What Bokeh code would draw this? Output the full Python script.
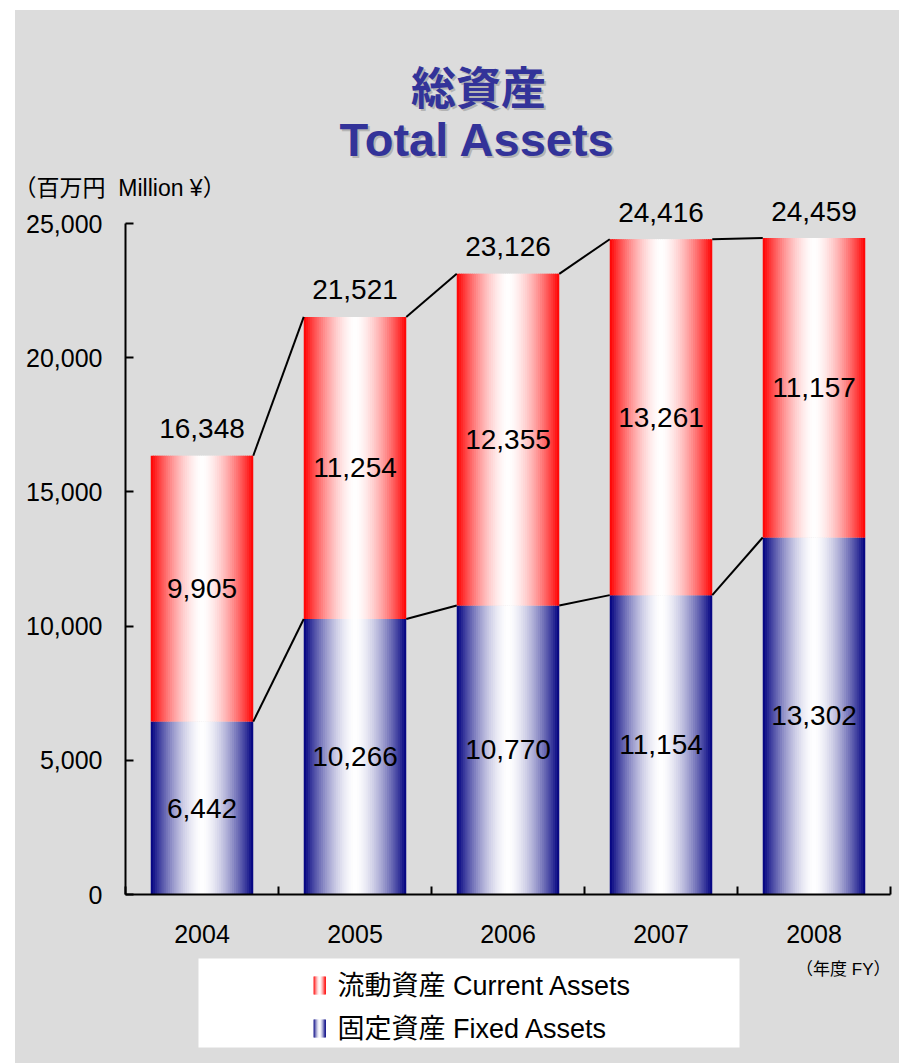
from bokeh.plotting import figure
from bokeh.models import (ColumnDataSource, Range1d, FixedTicker, SingleIntervalTicker,
                          NumeralTickFormatter)
from bokeh.layouts import column
from bokeh.embed import file_html
from bokeh.resources import INLINE
from bokeh.core.properties import value

# ---------------- data ----------------
years = ["2004", "2005", "2006", "2007", "2008"]
fixed_assets = [6442, 10266, 10770, 11154, 13302]      # 固定資産 Fixed Assets
current_assets = [9905, 11254, 12355, 13261, 11157]    # 流動資産 Current Assets
total_assets = [16348, 21521, 23126, 24416, 24459]     # 総資産 Total Assets

title_jp = "総資産"
title_en = "Total Assets"
unit_label = "（百万円\u00a0\u00a0Million ¥）"
year_label = "（年度 FY）"
legend_current = "流動資産 Current Assets"
legend_fixed = "固定資産 Fixed Assets"

# ---------------- style ----------------
BG = "#dcdcdc"
FONT = "'Liberation Sans', Arial, 'Noto Sans CJK JP', sans-serif"
CJK = "'Noto Sans CJK JP', sans-serif"
TITLE_COLOR = "#333399"
SHADOW = "#b4b4b4"
RED = (255, 0, 0)
NAVY = (0, 0, 128)
BAR_W = 0.67
N_STRIPS = 48

FRAME_W = 765
LEFT_B = 110
RIGHT_B = 9
PX_PER_25000 = 671


def grad_color(base, t, c=0.5, p=1.6):
    d = abs(t - c) / (c if t < c else 1 - c)
    f = min(1.0, d) ** p
    r, g, b = [int(round(255 * (1 - f) + ch * f)) for ch in base]
    return "#%02x%02x%02x" % (r, g, b)


def base_fig(frame_h, **kw):
    f = figure(frame_width=FRAME_W, frame_height=frame_h, output_backend="svg",
               toolbar_location=None, min_border_left=LEFT_B, min_border_right=RIGHT_B,
               background_fill_color=BG, border_fill_color=None, outline_line_color=None,
               **kw)
    f.styles = {"background-color": BG}
    f.xgrid.visible = False
    f.ygrid.visible = False
    return f

# ---------------- title panel (coordinates: px, page based) ----------------
T_TOP = 10
T_H = 163
t = base_fig(T_H, x_range=Range1d(125, 890), y_range=Range1d(T_TOP + T_H, T_TOP),
             x_axis_type=None, y_axis_type=None, min_border_top=0, min_border_bottom=0)
for dx, col in [(2, SHADOW), (0, TITLE_COLOR)]:
    t.text(x=[478 + dx], y=[85 + dx], text=[title_jp], text_align="center",
           text_baseline="middle", text_font=value(CJK), text_font_size="45px",
           text_font_style="bold", text_color=col)
    t.text(x=[477 + dx], y=[139 + dx], text=[title_en], text_align="center",
           text_baseline="middle", text_font=value(FONT), text_font_size="47px",
           text_font_style="bold", text_color=col)

# ---------------- main chart ----------------
n = len(years)
idx = list(range(n))
FRAME_H = 693
p = base_fig(FRAME_H, x_range=Range1d(-0.5, n - 0.5),
             y_range=Range1d(0, 25000 * FRAME_H / PX_PER_25000),
             min_border_top=0, min_border_bottom=57)

p.title.text = unit_label
p.title.align = "left"
p.title.offset = -112
p.title.standoff = 0
p.title.vertical_align = "middle"
p.title.text_font = FONT
p.title.text_font_size = "23px"
p.title.text_font_style = "normal"
p.title.text_color = "black"


def strips(bottoms, tops, base):
    L, R, B, T, C = [], [], [], [], []
    step = BAR_W / N_STRIPS
    for i in idx:
        for j in range(N_STRIPS):
            tt = (j + 0.5) / N_STRIPS
            left = i - BAR_W / 2 + j * step
            right = min(left + step * 1.6, i + BAR_W / 2)
            L.append(left); R.append(right)
            B.append(bottoms[i]); T.append(tops[i])
            C.append(grad_color(base, tt))
    return ColumnDataSource(dict(left=L, right=R, bottom=B, top=T, color=C))


stack_top = [f + c for f, c in zip(fixed_assets, current_assets)]
p.quad(left="left", right="right", bottom="bottom", top="top", fill_color="color",
       line_color=None, source=strips([0] * n, fixed_assets, NAVY))
p.quad(left="left", right="right", bottom="bottom", top="top", fill_color="color",
       line_color=None, source=strips(fixed_assets, stack_top, RED))

# connector lines
x0 = [i + BAR_W / 2 for i in idx[:-1]]
x1 = [i + 1 - BAR_W / 2 for i in idx[:-1]]
p.segment(x0=x0, y0=stack_top[:-1], x1=x1, y1=stack_top[1:], line_color="black", line_width=2)
p.segment(x0=x0, y0=fixed_assets[:-1], x1=x1, y1=fixed_assets[1:], line_color="black", line_width=2)

# value labels
fmt = lambda v: f"{v:,}"
common = dict(text_align="center", text_baseline="middle", text_font=value(FONT),
              text_font_size="28px", text_color="black")
p.text(x=idx, y=total_assets, text=[fmt(v) for v in total_assets], y_offset=-27, **common)
p.text(x=idx, y=[f / 2 for f in fixed_assets], text=[fmt(v) for v in fixed_assets], **common)
p.text(x=idx, y=[f + c / 2 for f, c in zip(fixed_assets, current_assets)],
       text=[fmt(v) for v in current_assets], **common)

# axes
ya = p.yaxis[0]
ya.bounds = (0, 25000)
ya.ticker = SingleIntervalTicker(interval=5000, num_minor_ticks=0)
ya.formatter = NumeralTickFormatter(format="0,0")
ya.axis_line_width = 2
ya.major_tick_line_width = 2
ya.major_tick_in = 8
ya.major_tick_out = 0
ya.minor_tick_line_color = None
ya.major_label_standoff = 23
ya.major_label_text_font = FONT
ya.major_label_text_font_size = "25px"
ya.major_label_text_color = "black"

xa = p.xaxis[0]
xa.ticker = FixedTicker(ticks=idx, minor_ticks=[i - 0.5 for i in idx] + [n - 0.5])
xa.major_label_overrides = {i: y for i, y in zip(idx, years)}
xa.axis_line_width = 2
xa.major_tick_line_color = None
xa.major_tick_in = 0
xa.major_tick_out = 0
xa.minor_tick_line_width = 2
xa.minor_tick_in = 8
xa.minor_tick_out = 0
xa.major_label_standoff = 30
xa.major_label_text_font = FONT
xa.major_label_text_font_size = "25px"
xa.major_label_text_color = "black"

# ---------------- legend panel (coordinates: px from panel top) ----------------
Q_H = 112
q = base_fig(Q_H, x_range=Range1d(125, 890), y_range=Range1d(Q_H, 0),
             x_axis_type=None, y_axis_type=None, min_border_top=0, min_border_bottom=0)
q.quad(left=[198], right=[739], bottom=[96], top=[7], fill_color="white", line_color=None)


def icon(x_left, cy, base):
    k = 12
    L = [x_left + j for j in range(k)]
    R = [x_left + j + 1.5 for j in range(k)]
    C = [grad_color(base, (j + 0.5) / k) for j in range(k)]
    q.quad(left=L, right=R, bottom=[cy + 9] * k, top=[cy - 9] * k, fill_color=C, line_color=None)


icon(313, 34, RED)
icon(313, 77, NAVY)
q.text(x=[337, 337], y=[34, 77], text=[legend_current, legend_fixed], text_align="left",
       text_baseline="middle", text_font=value(FONT), text_font_size="27px", text_color="black")
q.text(x=[890], y=[18], text=[year_label], text_align="right", text_baseline="middle",
       text_font=value(FONT), text_font_size="17px", text_color="black")

layout = column(t, p, q, spacing=0, margin=(10, 0, 0, 15))
layout.styles = {"background-color": BG}
open("out.html", "w").write(file_html(layout, INLINE))
